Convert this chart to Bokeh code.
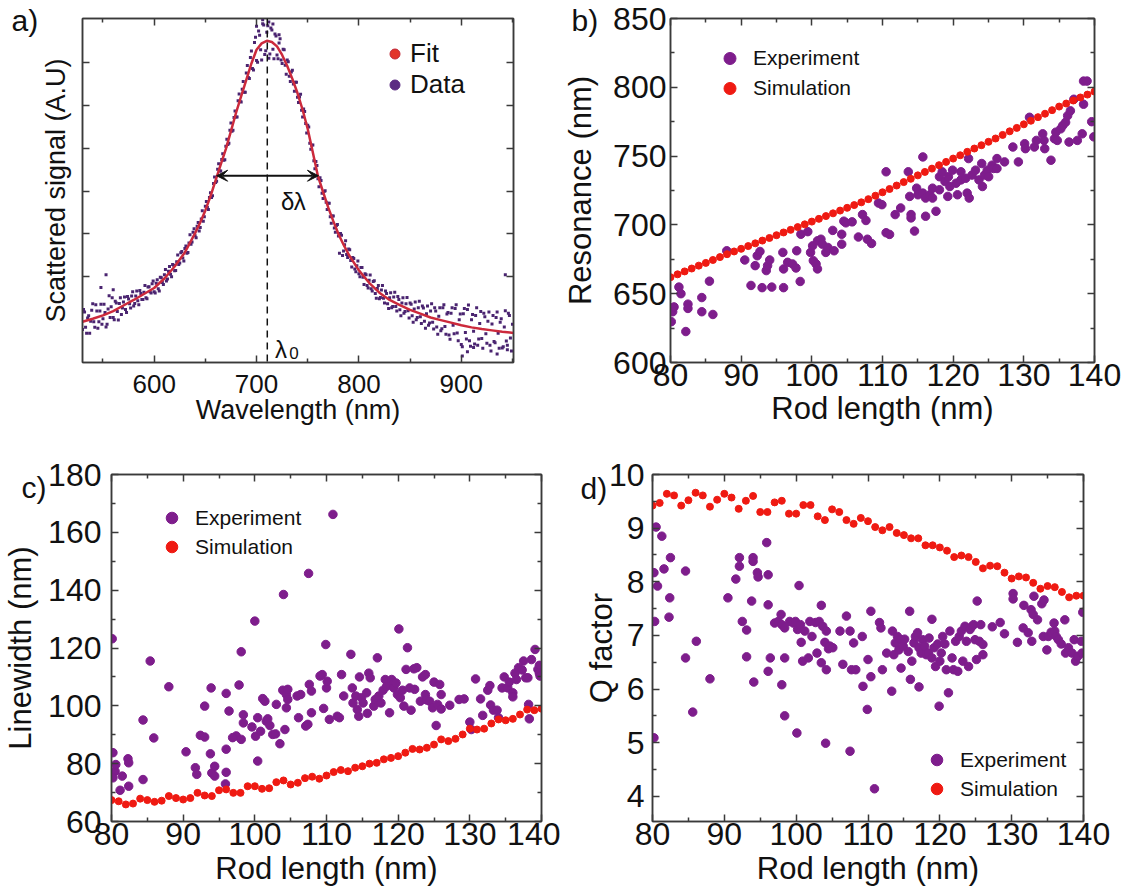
from bokeh.plotting import figure
from bokeh.models import (Range1d, LinearAxis, FixedTicker, Legend, LegendItem,
                          Label, Arrow, VeeHead, Span)
from bokeh.layouts import row, column
from bokeh.embed import file_html
from bokeh.resources import INLINE

FONT = "Liberation Sans"
TXT = "#111111"
AXC = "#3a3a3a"
PURPLE = "#7e1d8c"
RED = "#ef1a12"
NAN = float("nan")

# ---------------- panel a data ----------------
A_FIT_WL = [530, 540, 550, 560, 570, 580, 590, 600, 610, 620, 630, 640,
            645, 650, 655, 660, 665, 670, 675, 680, 685, 690,
            695, 700, 705, 710, 715, 720, 725, 730, 735, 740,
            745, 750, 755, 760, 765, 770, 775, 780, 785, 790,
            800, 810, 820, 830, 840, 850, 860, 870, 880, 890, 900, 910, 920, 930, 940, 951]
A_FIT = [0.95, 1.02, 1.10, 1.20, 1.33, 1.46, 1.60, 1.74, 1.96, 2.24, 2.57, 3.02,
         3.27, 3.55, 3.88, 4.25, 4.62, 4.98, 5.40, 5.83, 6.22, 6.60,
         6.98, 7.30, 7.45, 7.51, 7.48, 7.38, 7.18, 6.92, 6.62, 6.29,
         5.90, 5.45, 4.90, 4.35, 3.98, 3.62, 3.30, 3.00, 2.75, 2.52,
         2.15, 1.86, 1.63, 1.46, 1.34, 1.23, 1.14, 1.05, 0.99, 0.93, 0.87, 0.82, 0.78, 0.75, 0.72, 0.69]

A_WL = [530, 532, 534, 536, 538, 540, 542, 544, 546, 548,
        550, 552, 554, 556, 558, 560, 562, 564, 566, 568,
        570, 572, 574, 576, 578, 580, 582, 584, 586, 588,
        590, 592, 594, 596, 598, 600, 602, 604, 606, 608,
        610, 612, 614, 616, 618, 620, 622, 624, 626, 628,
        630, 632, 634, 636, 638, 640, 642, 644, 646, 648,
        650, 652, 654, 656, 658, 660, 662, 664, 666, 668,
        670, 672, 674, 676, 678, 680, 682, 684, 686, 688,
        690, 692, 694, 696, 698, 700, 702, 704, 706, 708,
        710, 712, 714, 716, 718, 720, 722, 724, 726, 728,
        730, 732, 734, 736, 738, 740, 742, 744, 746, 748,
        750, 752, 754, 756, 758, 760, 762, 764, 766, 768,
        770, 772, 774, 776, 778, 780, 782, 784, 786, 788,
        790, 792, 794, 796, 798, 800, 802, 804, 806, 808,
        810, 812, 814, 816, 818, 820, 822, 824, 826, 828,
        830, 832, 834, 836, 838, 840, 842, 844, 846, 848,
        850, 852, 854, 856, 858, 860, 862, 864, 866, 868,
        870, 872, 874, 876, 878, 880, 882, 884, 886, 888,
        890, 892, 894, 896, 898, 900, 902, 904, 906, 908,
        910, 912, 914, 916, 918, 920, 922, 924, 926, 928,
        930, 932, 934, 936, 938, 940, 942, 944, 946, 948,
        950,
        553, 943, 700, 706, 712, 716, 722, 901, 906, 912, 935, 945, 548, 560]
A_SIGNAL = [0.77, 1.18, 0.68, 1.09, 0.96, 1.37, 0.82, 1.20, 0.95, 1.36,
            1.02, 1.17, 0.89, 1.56, 1.30, 1.05, 1.43, 1.19, 1.38, 1.12,
            1.41, 1.24, 1.54, 1.37, 1.55, 1.32, 1.55, 1.44, 1.68, 1.47,
            1.64, 1.51, 1.76, 1.65, 1.84, 1.65, 1.85, 1.72, 1.99, 1.87,
            2.05, 1.90, 2.13, 2.06, 2.29, 2.14, 2.35, 2.29, 2.56, 2.44,
            2.66, 2.55, 2.79, 2.76, 3.04, 2.96, 3.18, 3.07, 3.35, 3.30,
            3.65, 3.62, 3.85, 3.85, 4.18, 4.20, 4.51, 4.47, 4.74, 4.72,
            5.05, 5.09, 5.42, 5.40, 5.72, 5.73, 6.11, 6.09, 6.38, 6.31,
            6.76, 6.65, 7.12, 6.86, 7.47, 7.05, 7.74, 7.30, 7.91, 7.19,
            7.71, 7.10, 7.81, 7.31, 7.67, 7.18, 7.46, 7.06, 7.31, 6.94,
            7.06, 6.68, 6.78, 6.50, 6.54, 6.19, 6.20, 5.89, 5.92, 5.58,
            5.54, 5.12, 5.07, 4.71, 4.69, 4.29, 4.31, 3.95, 3.99, 3.74,
            3.72, 3.40, 3.42, 3.14, 3.20, 2.95, 3.01, 2.50, 2.75, 2.52,
            2.65, 2.38, 2.45, 2.18, 2.26, 2.07, 2.22, 1.99, 2.07, 1.80,
            1.92, 1.72, 1.89, 1.61, 1.73, 1.49, 1.69, 1.50, 1.67, 1.37,
            1.51, 1.28, 1.53, 1.31, 1.54, 1.23, 1.39, 1.15, 1.37, 1.21,
            1.39, 1.09, 1.25, 1.00, 1.28, 1.07, 1.32, 0.96, 1.14, 0.87,
            1.20, 0.94, 1.28, 0.83, 1.08, 0.74, 1.28, 0.84, 1.13, 0.64,
            1.15, 0.87, 1.26, 0.69, 1.00, 0.42, 1.14, 0.70, 1.24, 0.51,
            1.00, 0.73, 1.10, 0.40, 0.91, 0.56, 1.15, 0.67, 0.96, 0.40,
            0.90, 0.49, 1.05, 0.68, 0.94, 0.34, 0.83, 0.50, 1.15, 0.57,
            0.89,
            2.05, 2.05, 7.85, 8.00, 7.95, 7.90, 7.65, 0.15, 0.25, 0.35, 0.20, 0.30, 1.75, 1.70]

A_WL2 = [531, 533, 535, 537, 539, 541, 543, 545, 547, 549,
         551, 553, 555, 557, 559, 561, 563, 565, 567, 569,
         571, 573, 575, 577, 579, 581, 583, 585, 587, 589,
         591, 593, 595, 597, 599, 601, 603, 605, 607, 609,
         611, 613, 615, 617, 619, 621, 623, 625, 627, 629,
         631, 633, 635, 637, 639, 641, 643, 645, 647, 649,
         651, 653, 655, 657, 659, 661, 663, 665, 667, 669,
         671, 673, 675, 677, 679, 681, 683, 685, 687, 689,
         691, 693, 695, 697, 699, 701, 703, 705, 707, 709,
         711, 713, 715, 717, 719, 721, 723, 725, 727, 729,
         731, 733, 735, 737, 739, 741, 743, 745, 747, 749,
         751, 753, 755, 757, 759, 761, 763, 765, 767, 769,
         771, 773, 775, 777, 779, 781, 783, 785, 787, 789,
         791, 793, 795, 797, 799, 801, 803, 805, 807, 809,
         811, 813, 815, 817, 819, 821, 823, 825, 827, 829,
         831, 833, 835, 837, 839, 841, 843, 845, 847, 849,
         851, 853, 855, 857, 859, 861, 863, 865, 867, 869,
         871, 873, 875, 877, 879, 881, 883, 885, 887, 889,
         891, 893, 895, 897, 899, 901, 903, 905, 907, 909,
         911, 913, 915, 917, 919, 921, 923, 925, 927, 929,
         931, 933, 935, 937, 939, 941, 943, 945, 947, 949]
A_SIGNAL2 = [1.24, 0.82, 1.04, 0.68, 1.22, 0.95, 1.35, 0.80, 1.20, 0.89,
             1.36, 0.83, 1.25, 1.05, 1.51, 1.00, 1.39, 0.99, 1.51, 1.27,
             1.53, 1.17, 1.48, 1.27, 1.65, 1.38, 1.67, 1.35, 1.61, 1.47,
             1.80, 1.49, 1.77, 1.62, 1.90, 1.62, 1.93, 1.67, 1.98, 1.82,
             2.17, 1.95, 2.24, 2.00, 2.27, 2.15, 2.51, 2.32, 2.59, 2.37,
             2.72, 2.57, 2.98, 2.81, 3.12, 2.91, 3.27, 3.15, 3.54, 3.40,
             3.76, 3.57, 3.96, 3.89, 4.33, 4.23, 4.64, 4.47, 4.87, 4.73,
             5.21, 5.12, 5.59, 5.42, 5.87, 5.73, 6.27, 6.08, 6.56, 6.31,
             6.93, 6.63, 7.27, 6.83, 7.59, 7.01, 7.64, 7.06, 7.88, 7.28,
             7.86, 7.20, 7.76, 7.09, 7.62, 7.09, 7.56, 6.98, 7.30, 6.73,
             7.02, 6.56, 6.82, 6.33, 6.54, 6.07, 6.26, 5.73, 5.86, 5.36,
             5.50, 4.98, 5.08, 4.52, 4.60, 4.10, 4.25, 3.83, 4.01, 3.57,
             3.72, 3.25, 3.42, 3.04, 3.22, 2.55, 2.97, 2.60, 2.84, 2.45,
             2.63, 2.23, 2.43, 2.12, 2.37, 2.00, 2.22, 1.82, 2.05, 1.74,
             2.04, 1.67, 1.91, 1.50, 1.80, 1.52, 1.80, 1.39, 1.61, 1.26,
             1.63, 1.31, 1.64, 1.20, 1.47, 1.09, 1.51, 1.19, 1.52, 1.04,
             1.36, 0.94, 1.41, 1.05, 1.43, 0.91, 1.27, 0.80, 1.32, 0.92,
             1.37, 0.78, 1.20, 0.66, 1.28, 0.79, 1.35, 0.66, 1.17, 0.54,
             1.28, 0.67, 1.35, 0.51, 1.13, 0.37, 1.26, 0.55, 1.34, 0.38,
             1.12, 0.43, 1.28, 0.55, 1.19, 0.33, 1.07, 0.45, 1.18, 0.27,
             1.10, 0.46, 1.18, 0.33, 1.02, 0.37, 1.21, 0.40, 1.10, 0.27]

LAMBDA0 = 710.5
FWHM_LO, FWHM_HI, HALF_MAX = 661, 760.5, 4.36

# ---------------- simulation rod lengths (shared) ----------------
ROD_SIM = [80, 81, 82, 83, 84, 85, 86, 87, 88, 89, 90, 91, 92, 93, 94, 95, 96, 97, 98, 99,
           100, 101, 102, 103, 104, 105, 106, 107, 108, 109, 110, 111, 112, 113, 114, 115, 116, 117, 118, 119,
           120, 121, 122, 123, 124, 125, 126, 127, 128, 129, 130, 131, 132, 133, 134, 135, 136, 137, 138, 139, 140]

# ---------------- panel b: resonance ----------------
B_SIM = [662.0, 664.1, 666.2, 668.3, 670.4, 672.4, 674.5, 676.6, 678.7, 680.7,
         682.6, 684.6, 686.6, 688.6, 690.5, 692.5, 694.5, 696.4, 698.4, 700.4,
         702.4, 704.4, 706.4, 708.4, 710.4, 712.4, 714.4, 716.4, 718.7, 721.2,
         723.7, 726.1, 728.6, 731.1, 733.5, 736.0, 738.5, 740.9, 743.4, 745.8,
         748.2, 750.6, 753.1, 755.5, 757.9, 760.4, 762.8, 765.4, 768.0, 770.5,
         773.1, 775.7, 778.3, 780.8, 783.4, 786.0, 788.2, 790.4, 792.6, 794.7,
         796.9]
B_EXP_X = [80.11, 80.31, 80.50, 81.19, 81.48, 82.17, 82.47, 82.47, 84.43, 84.43, 85.51, 86.00,
           87.96, 90.51, 91.39, 91.98, 92.27, 92.66, 92.96, 93.55, 93.74, 94.04,
           94.33, 95.90, 96.00, 96.00, 96.58, 97.27, 97.76, 97.86, 98.35, 98.45,
           99.43, 99.82, 100.11, 100.21, 100.60, 100.80, 100.80, 101.29, 101.49, 101.98,
           102.27, 102.96, 103.15, 104.23, 104.23, 104.53, 104.82, 105.70, 106.59, 107.17,
           107.66, 107.86, 108.45, 109.43,
           109.92, 110.51, 110.51, 111.00, 111.79, 112.57, 113.65, 113.85, 114.04, 114.04,
           114.53, 114.83, 115.02, 115.71, 115.71, 116.10, 116.10, 116.69, 117.08, 117.08,
           117.57, 118.06, 118.06, 118.45, 118.84, 119.24, 119.33, 119.53, 119.92, 120.41,
           120.61, 121.10, 121.10, 121.78, 121.98, 122.18, 122.27, 122.67, 123.16, 123.65,
           124.04, 124.14, 124.43, 124.82, 125.02, 125.51, 125.71, 126.20, 126.20, 127.27,
           128.45, 129.23, 130.12, 130.22, 130.80, 131.49, 131.78, 132.67, 132.86, 132.96,
           133.84, 134.33, 134.53, 134.73, 135.22, 135.51, 135.91, 136.20, 136.40, 136.59,
           137.08, 137.57, 138.26, 138.45, 138.45, 138.95, 139.6, 139.9]
B_EXP_Y = [629.7, 636.9, 640.4, 654.8, 650.0, 622.5, 642.4, 639.3, 647.2, 636.9, 659.1, 634.9,
           681.2, 674.5, 656.0, 670.4, 677.6, 680.7, 654.4, 666.8, 670.4, 674.5,
           654.8, 680.0, 654.4, 668.0, 672.8, 671.6, 668.7, 681.2, 658.9, 693.2,
           695.1, 680.0, 684.8, 674.0, 671.6, 668.0, 688.4, 689.6, 686.0, 680.0,
           683.6, 696.0, 681.2, 693.2, 686.0, 702.7, 701.5, 702.2, 691.2, 707.5,
           703.2, 689.6, 686.5, 715.9,
           714.7, 738.6, 694.3, 693.1, 707.5, 712.3, 738.6, 720.7, 707.5, 705.1,
           695.5, 726.7, 721.9, 749.4, 723.1, 719.5, 706.3, 721.9, 726.7, 719.5,
           709.9, 735.0, 725.5, 738.6, 731.5, 720.7, 735.0, 727.9, 739.8, 730.3,
           721.9, 738.6, 732.7, 733.9, 723.1, 748.2, 719.5, 736.2, 739.8, 732.7,
           744.6, 727.9, 736.2, 739.8, 735.0, 743.4, 741.0, 748.2, 741.0, 745.8,
           756.6, 745.8, 759.0, 755.4, 778.2, 756.6, 761.4, 766.2, 761.4, 755.4,
           747.0, 762.6, 767.4, 761.4, 769.8, 772.2, 774.6, 779.4, 760.2, 782.9,
           791.3, 761.4, 766.2, 787.7, 804.5, 804.5, 775.0, 764.0]

# ---------------- panel c: linewidth ----------------
C_SIM = [67.4, 67.0, 65.9, 66.2, 67.9, 67.4, 66.8, 67.2, 68.8, 68.1,
         67.6, 68.1, 69.9, 69.0, 68.8, 70.8, 71.1, 69.9, 69.9, 72.2,
         72.2, 71.3, 71.5, 73.6, 74.2, 72.8, 73.4, 75.0, 75.5, 74.8,
         75.9, 77.1, 77.8, 77.4, 78.6, 79.1, 80.0, 80.3, 81.5, 82.0,
         82.6, 83.8, 85.1, 84.9, 85.5, 86.6, 88.4, 87.8, 88.6, 90.1,
         92.1, 91.8, 92.1, 93.9, 95.3, 95.0, 95.5, 97.0, 98.7, 98.5,
         99.0]
C_EXP_X = [80.1, 80.2, 80.5, 80.6, 80.2, 81.5, 81.2, 82.3, 82.4, 82.4,
           84.4, 84.4, 85.4, 85.9, 88.0, 90.4, 91.7, 91.9, 92.4, 93.0,
           93.0, 93.8, 93.9, 94.0, 94.4, 94.4, 96.0, 96.0, 96.0, 95.9,
           96.4, 98.1, 97.8, 97.4, 96.9, 98.4, 98.4, 98.1, 100.0, 99.6,
           100.1, 100.4, 100.4, 100.8, 101.1, 101.4, 101.6, 101.8, 102.1, 102.5,
           102.9, 103.0, 103.5, 104.0, 103.9, 104.2, 104.4, 104.4, 104.6, 104.6,
           105.9, 106.1, 106.4, 107.1, 107.4, 107.5, 107.6, 107.9, 107.9, 109.1,
           109.4, 109.6, 109.9, 110.0, 110.1, 110.4, 110.9, 111.5, 111.8, 112.1,
           112.4, 113.4, 113.6, 113.7, 114.1, 114.3, 114.5, 114.6, 114.9, 115.1,
           115.6, 115.7, 115.9, 116.1, 116.6, 116.8, 117.1, 117.3, 117.6, 117.9,
           118.2, 118.4, 118.8, 119.1, 119.3, 119.4, 119.7, 119.9, 120.1, 120.3,
           120.6, 120.8, 121.3, 121.1, 121.6, 121.8, 122.2, 122.3, 122.6, 123.1,
           123.4, 123.8, 123.8, 124.0, 124.4, 124.8, 125.0, 125.3, 125.5, 125.8,
           126.0, 126.0, 127.2, 128.5, 129.2, 130.0, 130.2, 130.8, 131.5, 131.8,
           132.5, 132.8, 132.9, 133.3, 133.8, 134.0, 134.5, 134.8, 135.3, 135.5,
           136.0, 136.0, 136.3, 136.5, 136.8, 137.3, 137.5, 137.8, 138.1, 138.2,
           138.3, 138.6, 139.1, 139.5, 139.7, 139.7, 139.8]
C_EXP_Y = [123.2, 83.8, 77.4, 79.7, 75.1, 75.7, 70.8, 81.7, 80.3, 72.2,
           95.1, 74.5, 115.5, 88.9, 106.6, 84.1, 78.6, 76.3, 89.8, 89.2,
           99.9, 83.4, 106.2, 76.8, 79.1, 75.7, 104.3, 85.0, 77.0, 73.0,
           98.2, 118.7, 107.2, 89.6, 89.0, 96.9, 94.1, 88.4, 129.3, 92.7,
           89.5, 95.9, 80.9, 91.2, 102.5, 101.6, 94.7, 95.5, 93.2, 90.1,
           90.3, 100.5, 86.9, 138.5, 105.4, 91.8, 103.9, 99.3, 102.2, 105.7,
           103.4, 95.9, 103.9, 93.0, 93.6, 145.8, 107.4, 97.6, 105.1, 110.3,
           110.8, 99.1, 121.2, 106.2, 108.5, 95.3, 166.2, 96.4, 95.9, 110.8,
           103.4, 117.8, 106.2, 101.0, 103.4, 98.7, 96.4, 110.0, 102.8, 101.0,
           104.5, 97.4, 111.3, 109.7, 99.9, 102.2, 116.6, 103.4, 101.0, 105.4,
           109.1, 106.8, 97.6, 109.1, 107.4, 106.2, 107.9, 103.9, 126.6, 102.8,
           105.4, 99.9, 120.1, 112.6, 106.2, 98.5, 112.8, 105.7, 113.2, 101.6,
           110.0, 110.8, 103.9, 102.0, 101.6, 99.3, 108.2, 93.2, 100.5, 107.4,
           103.9, 98.9, 100.2, 102.2, 102.4, 94.4, 91.8, 109.3, 102.4, 96.7,
           105.4, 107.0, 100.3, 98.5, 98.5, 95.9, 106.2, 110.0, 106.2, 108.2,
           104.5, 103.1, 111.3, 109.1, 113.2, 112.4, 115.5, 109.7, 109.7, 100.5,
           95.5, 116.0, 119.5, 112.6, 114.0, 111.3, 110.3]

# ---------------- panel d: Q factor ----------------
D_SIM = [9.42, 9.47, 9.64, 9.61, 9.42, 9.52, 9.66, 9.61, 9.40, 9.53,
         9.64, 9.57, 9.36, 9.51, 9.60, 9.30, 9.30, 9.48, 9.51, 9.27,
         9.27, 9.43, 9.43, 9.22, 9.15, 9.35, 9.30, 9.15, 9.08, 9.19,
         9.13, 9.02, 8.96, 9.02, 8.91, 8.87, 8.81, 8.81, 8.68, 8.68,
         8.64, 8.58, 8.46, 8.49, 8.46, 8.37, 8.25, 8.30, 8.29, 8.17,
         8.06, 8.10, 8.08, 7.98, 7.87, 7.92, 7.90, 7.81, 7.71, 7.74,
         7.74]
D_EXP_X = [80.5, 80.2, 80.7, 80.3, 80.2, 81.3, 81.6, 82.5, 82.4, 82.3,
           84.6, 84.6, 85.6, 86.1, 88.0, 90.5, 91.6, 92.1, 92.1, 92.5,
           93.1, 93.1, 94.0, 94.0, 93.8, 94.1, 94.6, 94.7, 95.9, 96.1,
           96.1, 96.1, 96.4, 97.0, 97.5, 97.9, 98.0, 98.4, 98.0, 98.4,
           98.4, 99.1, 99.6, 99.9, 100.2, 100.1, 100.4, 100.6, 100.7, 100.9,
           101.2, 101.7, 101.9, 102.2, 102.7, 102.9, 103.2, 103.5, 103.5, 103.7,
           104.0, 104.2, 104.5, 104.7, 104.2, 104.1, 105.1, 106.1, 106.5, 107.0,
           107.5, 107.5, 107.7, 108.0, 108.3, 109.2, 109.3, 109.9, 110.0, 110.4,
           110.4, 110.9, 111.6, 111.8, 112.0, 112.6, 113.3, 113.4, 113.6, 113.8,
           114.1, 114.3, 114.6, 114.6, 114.9, 115.1, 115.6, 115.8, 115.9, 116.1,
           116.4, 116.6, 116.9, 117.1, 117.1, 117.4, 117.6, 117.9, 118.1, 118.4,
           118.5, 118.9, 118.9, 119.2, 119.4, 119.7, 119.9, 120.0, 120.2, 120.4,
           120.7, 120.9, 121.2, 121.4, 121.7, 121.9, 122.2, 122.5, 122.7, 123.0,
           123.2, 123.5, 123.7, 124.0, 124.2, 124.5, 124.7, 124.9, 125.2, 125.1,
           125.5, 125.7, 126.0, 126.0, 127.3, 128.4, 129.0, 130.2, 130.2, 130.8,
           131.6, 131.7, 132.3, 132.7, 133.0, 133.1, 132.8, 133.6, 134.2, 134.5,
           134.4, 134.9, 135.1, 135.5, 135.9, 136.0, 136.2, 136.5, 136.9, 137.4,
           137.5, 137.9, 138.4, 138.7, 138.9, 139.2, 139.7, 139.8, 139.9]
D_EXP_Y = [9.02, 8.17, 7.92, 7.26, 5.09, 8.85, 8.24, 8.45, 7.70, 7.34,
           8.20, 6.58, 5.57, 6.89, 6.19, 7.70, 8.05, 8.45, 8.29, 7.26,
           7.10, 6.60, 8.45, 8.38, 7.64, 6.13, 8.17, 8.09, 8.73, 8.13,
           7.57, 6.33, 6.58, 7.23, 7.26, 7.39, 7.20, 7.14, 6.08, 5.50,
           6.58, 7.26, 7.23, 7.26, 7.11, 5.18, 7.93, 7.20, 6.87, 6.52,
           7.08, 6.58, 7.26, 6.98, 7.24, 6.67, 7.26, 7.56, 6.49, 7.17,
           6.87, 7.08, 6.75, 6.80, 6.36, 4.99, 6.77, 7.08, 6.46, 7.36,
           7.08, 4.84, 6.36, 6.86, 6.36, 6.98, 6.05, 5.62, 6.55, 7.45,
           6.23, 4.14, 7.24, 7.14, 6.36, 6.67, 5.96, 7.08, 6.64, 6.86,
           6.98, 6.73, 6.92, 6.39, 6.80, 6.93, 6.70, 7.45, 6.18, 6.52,
           6.86, 6.98, 7.05, 6.04, 6.77, 6.67, 6.92, 6.80, 6.64, 6.67,
           6.95, 7.30, 6.58, 6.77, 6.42, 6.84, 5.68, 6.52, 6.67, 6.98,
           6.84, 6.36, 5.93, 7.08, 6.58, 6.36, 6.89, 6.33, 6.98, 7.08,
           6.52, 7.17, 6.89, 6.42, 7.11, 7.17, 7.20, 6.92, 7.64, 6.55,
           6.89, 7.20, 6.83, 6.64, 7.16, 7.24, 7.03, 7.78, 7.68, 6.87,
           7.14, 7.56, 7.05, 7.48, 7.39, 7.73, 6.89, 7.29, 7.59, 7.66,
           6.98, 6.73, 6.98, 7.06, 7.23, 7.08, 6.98, 6.92, 6.84, 7.29,
           6.67, 6.77, 6.67, 6.92, 6.52, 6.61, 6.89, 6.67, 7.43]

ROD_TICKS = [80, 90, 100, 110, 120, 130, 140]
ROD_MINOR = [85, 95, 105, 115, 125, 135]
PANEL_LABELS = ["a)", "b)", "c)", "d)"]


def pairs(xs, ys):
    n = min(len(xs), len(ys))
    return list(xs[:n]), list(ys[:n])


def base_fig(w, h, bl, br, bt, bb, xr, yr):
    p = figure(width=w, height=h, min_border_left=bl, min_border_right=br,
               min_border_top=bt, min_border_bottom=bb,
               x_range=Range1d(*xr), y_range=Range1d(*yr),
               output_backend="svg", toolbar_location=None)
    p.xgrid.visible = False
    p.ygrid.visible = False
    p.outline_line_color = AXC
    p.outline_line_width = 1.5
    p.background_fill_color = "white"
    p.border_fill_color = "white"
    return p


def style_axis(ax, ticks, minor, font_px, show_labels=True, label=None, label_px=None,
               standoff=4, label_standoff=5):
    ax.ticker = FixedTicker(ticks=ticks, minor_ticks=minor)
    ax.major_tick_in = 7
    ax.major_tick_out = 0
    ax.minor_tick_in = 4
    ax.minor_tick_out = 0
    ax.axis_line_color = AXC
    ax.axis_line_width = 1.5
    ax.major_tick_line_color = AXC
    ax.major_tick_line_width = 1.5
    ax.minor_tick_line_color = AXC
    ax.minor_tick_line_width = 1.5
    ax.major_label_text_font = FONT
    ax.major_label_standoff = standoff
    if show_labels:
        ax.major_label_text_color = TXT
        ax.major_label_text_font_size = f"{font_px}px"
    else:
        ax.major_label_text_color = None
        ax.major_label_text_alpha = 0
        ax.major_label_text_font_size = "0px"
    if label:
        ax.axis_label = label
        ax.axis_label_text_font = FONT
        ax.axis_label_text_font_size = f"{label_px}px"
        ax.axis_label_text_font_style = "normal"
        ax.axis_label_text_color = TXT
        ax.axis_label_standoff = label_standoff


def mirror(p, xt, xm, yt, ym):
    top = LinearAxis()
    style_axis(top, xt, xm, 0, show_labels=False, standoff=0)
    p.add_layout(top, "above")
    right = LinearAxis()
    style_axis(right, yt, ym, 0, show_labels=False, standoff=0)
    p.add_layout(right, "right")


def legend(p, items, loc, font_px, gw, gh, standoff):
    leg = Legend(items=items, location=loc, orientation="vertical",
                 background_fill_alpha=0, border_line_alpha=0, padding=0, margin=0,
                 spacing=0, glyph_width=gw, glyph_height=gh, label_height=gh,
                 label_standoff=standoff, label_text_font=FONT,
                 label_text_font_size=f"{font_px}px", label_text_color=TXT)
    p.add_layout(leg)


# ================= panel a =================
pa = base_fig(560, 440, 82, 47, 15, 78, (530, 951), (0, 8.03))
style_axis(pa.xaxis[0], [600, 700, 800, 900], [550, 650, 750, 850, 950], 26,
           label="Wavelength (nm)", label_px=27, standoff=12, label_standoff=-1)
style_axis(pa.yaxis[0], [2, 3, 4, 5, 6, 7], [], 0, show_labels=False,
           label="Scattered signal (A.U)", label_px=27, standoff=0, label_standoff=12)
mirror(pa, [600, 700, 800, 900], [550, 650, 750, 850, 950], [2, 3, 4, 5, 6, 7], [])

ax_, ay_ = pairs(A_WL, A_SIGNAL)
pa.scatter(ax_, ay_, marker="square", size=3, fill_color="#4a2470", line_color=None)
ax2, ay2 = pairs(A_WL2, A_SIGNAL2)
pa.scatter(ax2, ay2, marker="square", size=3, fill_color="#4a2470", line_color=None)
pa.line(A_FIT_WL, A_FIT, line_color="#cc2a3c", line_width=2.5)
pa.add_layout(Span(location=LAMBDA0, dimension="height", line_color="#111111",
                   line_width=1.5, line_dash="7 5"))
pa.add_layout(Arrow(start=VeeHead(size=11, fill_color="#111111", line_color="#111111"),
                    end=VeeHead(size=11, fill_color="#111111", line_color="#111111"),
                    x_start=FWHM_LO, y_start=HALF_MAX, x_end=FWHM_HI, y_end=HALF_MAX,
                    line_width=2, line_color="#111111"))
pa.add_layout(Label(x=736, y=3.75, text="δλ", text_font=FONT, text_font_size="24px",
                    text_color=TXT, text_align="center", text_baseline="alphabetic"))
pa.add_layout(Label(x=718, y=0.3, text="λ", text_font=FONT, text_font_size="24px",
                    text_color=TXT, text_align="left", text_baseline="alphabetic"))
pa.add_layout(Label(x=732, y=0.22, text="0", text_font=FONT, text_font_size="17px",
                    text_color=TXT, text_align="left", text_baseline="alphabetic"))
leg_fit = pa.scatter([NAN], [NAN], marker="circle", fill_color="#e2342a", line_color="#c02838")
leg_dat = pa.scatter([NAN], [NAN], marker="circle", fill_color="#5b2b82", line_color="#5b2b82")
legend(pa, [LegendItem(label="Fit", renderers=[leg_fit]),
            LegendItem(label="Data", renderers=[leg_dat])], (300, 262), 26, 25, 27, 3)

# ================= panel b =================
pb = base_fig(571, 440, 104, 37, 18, 74, (80, 140), (600, 850))
style_axis(pb.xaxis[0], ROD_TICKS, ROD_MINOR, 32, label="Rod length (nm)", label_px=31,
           standoff=1, label_standoff=2)
style_axis(pb.yaxis[0], [600, 650, 700, 750, 800, 850], [625, 675, 725, 775, 825], 32,
           label="Resonance (nm)", label_px=31, standoff=4, label_standoff=12)
mirror(pb, ROD_TICKS, ROD_MINOR, [600, 650, 700, 750, 800, 850], [625, 675, 725, 775, 825])
bx, by = pairs(B_EXP_X, B_EXP_Y)
rb_exp = pb.scatter(bx, by, marker="circle", size=8.5, fill_color=PURPLE, line_color=PURPLE)
sx, sy = pairs(ROD_SIM, B_SIM)
rb_sim = pb.scatter(sx, sy, marker="circle", size=7, fill_color=RED, line_color=RED)
legend(pb, [LegendItem(label="Experiment", renderers=[rb_exp]),
            LegendItem(label="Simulation", renderers=[rb_sim])], (43, 259), 21, 33, 30, 7)

# ================= panel c =================
pc = base_fig(560, 456, 111, 19, 34, 75, (80, 140), (60, 180))
style_axis(pc.xaxis[0], ROD_TICKS, ROD_MINOR, 32, label="Rod length (nm)", label_px=31,
           standoff=1, label_standoff=3)
style_axis(pc.yaxis[0], [60, 80, 100, 120, 140, 160, 180], [70, 90, 110, 130, 150, 170], 32,
           label="Linewidth (nm)", label_px=31, standoff=10, label_standoff=7)
mirror(pc, ROD_TICKS, ROD_MINOR, [60, 80, 100, 120, 140, 160, 180], [70, 90, 110, 130, 150, 170])
cx, cy = pairs(C_EXP_X, C_EXP_Y)
rc_exp = pc.scatter(cx, cy, marker="circle", size=8.5, fill_color=PURPLE, line_color=PURPLE)
sx, sy = pairs(ROD_SIM, C_SIM)
rc_sim = pc.scatter(sx, sy, marker="circle", size=7, fill_color=RED, line_color=RED)
legend(pc, [LegendItem(label="Experiment", renderers=[rc_exp]),
            LegendItem(label="Simulation", renderers=[rc_sim])], (44, 260), 21, 33, 29, 7)

# ================= panel d =================
pd_ = base_fig(571, 456, 92, 48, 34, 75, (80, 140), (3.53, 10))
style_axis(pd_.xaxis[0], ROD_TICKS, ROD_MINOR, 32, label="Rod length (nm)", label_px=31,
           standoff=1, label_standoff=3)
style_axis(pd_.yaxis[0], [4, 5, 6, 7, 8, 9, 10], [4.5, 5.5, 6.5, 7.5, 8.5, 9.5], 32,
           label="Q factor", label_px=31, standoff=8, label_standoff=-13)
mirror(pd_, ROD_TICKS, ROD_MINOR, [4, 5, 6, 7, 8, 9, 10], [4.5, 5.5, 6.5, 7.5, 8.5, 9.5])
dx, dy = pairs(D_EXP_X, D_EXP_Y)
rd_exp = pd_.scatter(dx, dy, marker="circle", size=8.5, fill_color=PURPLE, line_color=PURPLE)
sx, sy = pairs(ROD_SIM, D_SIM)
rd_sim = pd_.scatter(sx, sy, marker="circle", size=7, fill_color=RED, line_color=RED)
legend(pd_, [LegendItem(label="Experiment", renderers=[rd_exp]),
             LegendItem(label="Simulation", renderers=[rd_sim])], (268, 18), 21, 33, 29, 7)

# ================= overlay for the panel letters =================
ov = figure(width=1131, height=896, x_range=Range1d(0, 1131), y_range=Range1d(896, 0),
            x_axis_type=None, y_axis_type=None, min_border=0,
            output_backend="svg", toolbar_location=None,
            styles={"position": "absolute", "left": "0px", "top": "0px", "z-index": "5",
                    "pointer-events": "none"})
ov.xgrid.visible = False
ov.ygrid.visible = False
ov.outline_line_color = None
ov.background_fill_color = None
ov.border_fill_color = None
for text, lx, ly in zip(PANEL_LABELS, [11, 571, 21, 580], [3, 3, 470, 471]):
    ov.add_layout(Label(x=lx, y=ly, text=text, text_font=FONT, text_font_size="30px",
                        text_color=TXT, text_align="left", text_baseline="top"))

layout = column(row(pa, pb), row(pc, pd_), ov, styles={"position": "relative"})
open("out.html", "w").write(file_html(layout, INLINE))
